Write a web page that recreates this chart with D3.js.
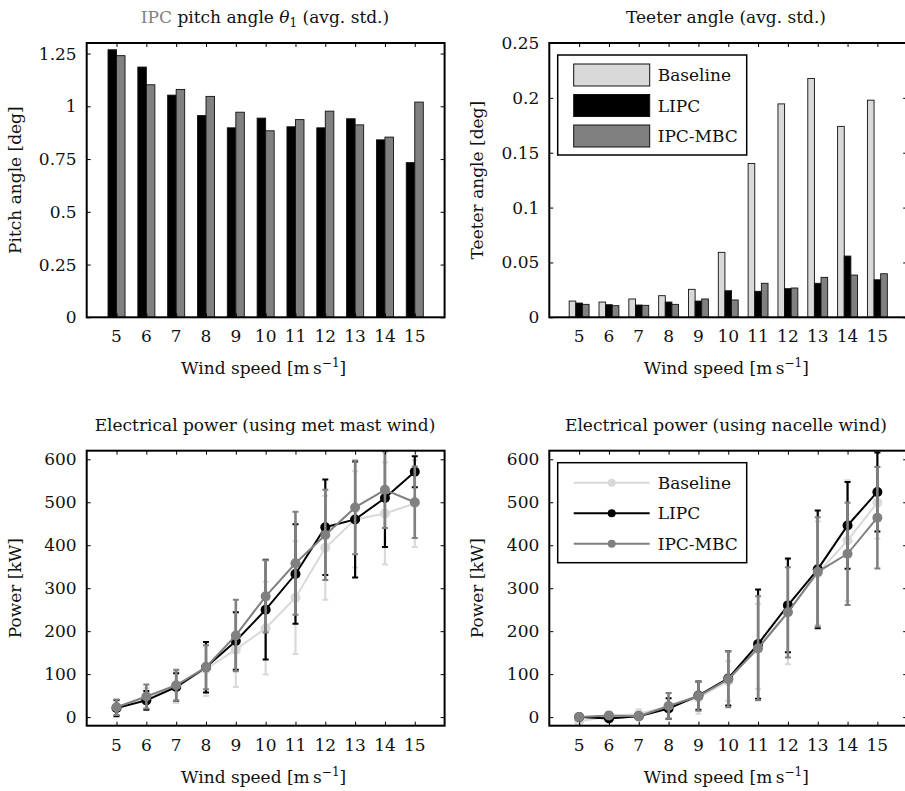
<!DOCTYPE html>
<html>
<head>
<meta charset="utf-8">
<script src="https://cdn.jsdelivr.net/npm/d3@7"></script>
<style>
  html, body { margin: 0; padding: 0; background: #fff; }
  svg text { font-family: "DejaVu Serif", "Liberation Serif", serif; font-size: 17px; fill: #111; }
</style>
</head>
<body>
<svg id="chart" width="905" height="791"></svg>
<script>
// Wind speed bins (m/s)
const windSpeeds = [5, 6, 7, 8, 9, 10, 11, 12, 13, 14, 15];
const seriesNames = ["Baseline", "LIPC", "IPC-MBC"];
const seriesColors = { "Baseline": "#d9d9d9", "LIPC": "#000000", "IPC-MBC": "#808080" };

// IPC pitch angle theta_1, average std [deg]
const pitchLIPC   = [1.268, 1.186, 1.053, 0.956, 0.898, 0.944, 0.903, 0.898, 0.941, 0.841, 0.733];
const pitchIPCMBC = [1.240, 1.102, 1.080, 1.047, 0.972, 0.884, 0.937, 0.977, 0.912, 0.854, 1.020];

// Teeter angle, average std [deg]
const teeterBaseline = [0.0148, 0.0139, 0.0167, 0.0197, 0.0255, 0.0592, 0.1402, 0.1945, 0.2177, 0.1740, 0.1979];
const teeterLIPC     = [0.0130, 0.0115, 0.0112, 0.0139, 0.0148, 0.0242, 0.0237, 0.0261, 0.0310, 0.0558, 0.0342];
const teeterIPCMBC   = [0.0118, 0.0106, 0.0109, 0.0118, 0.0167, 0.0158, 0.0310, 0.0267, 0.0364, 0.0385, 0.0397];

// Electrical power binned on met mast wind [kW]: mean and std
const mastBaseline    = [20, 43, 70, 112, 157, 207, 278, 394, 460, 474, 497];
const mastBaselineStd = [15, 24, 37, 63, 87, 108, 131, 121, 112, 119, 101];
const mastLIPC        = [21, 39, 70, 116, 177, 250, 333, 442, 460, 510, 571];
const mastLIPCStd     = [19, 22, 32, 59, 67, 116, 116, 111, 135, 114, 36];
const mastIPCMBC      = [23, 48, 74, 116, 190, 281, 358, 424, 488, 529, 500];
const mastIPCMBCStd   = [18, 28, 36, 51, 83, 84, 120, 105, 109, 89, 83];

// Electrical power binned on nacelle wind [kW]: mean and std
const nacBaseline    = [-10, 2, 8, 25, 45, 84, 165, 245, 335, 411, 499];
const nacBaselineStd = [5, 6, 10, 30, 37, 46, 99, 122, 120, 140, 84];
const nacLIPC        = [0, -3, 2, 20, 50, 90, 170, 260, 344, 446, 524];
const nacLIPCStd     = [3, 5, 5, 24, 33, 63, 127, 109, 137, 101, 92];
const nacIPCMBC      = [0, 4, 2, 26, 49, 88, 160, 244, 338, 380, 464];
const nacIPCMBCStd   = [3, 4, 5, 30, 34, 65, 121, 105, 127, 119, 118];

// Axis ticks
const pitchTicks  = [0, 0.25, 0.5, 0.75, 1, 1.25];
const pitchTickLabels = ["0", "0.25", "0.5", "0.75", "1", "1.25"];
const teeterTicks = [0, 0.05, 0.1, 0.15, 0.2, 0.25];
const teeterTickLabels = ["0", "0.05", "0.1", "0.15", "0.2", "0.25"];
const powerTicks  = [0, 100, 200, 300, 400, 500, 600];
const powerTickLabels = ["0", "100", "200", "300", "400", "500", "600"];

const svg = d3.select("#chart");

function windLabel(g, cx, y) {
  const t = g.append("text").attr("x", cx).attr("y", y).attr("text-anchor", "middle");
  t.append("tspan").text("Wind speed [m\u2009s");
  t.append("tspan").attr("dy", -7).attr("font-size", 12).text("\u22121");
  t.append("tspan").attr("dy", 7).text("]");
}

// Build one panel frame with inward ticks on all four sides
function panel(id, box, yDomain, yTicks, yLabels, yTitle) {
  const x = d3.scaleLinear().domain([4, 16]).range([box.left, box.right]);
  const y = d3.scaleLinear().domain(yDomain).range([box.bottom, box.top]);
  const g = svg.append("g").attr("class", "panel-" + id);

  g.append("clipPath").attr("id", "clip-" + id)
    .append("rect").attr("x", box.left).attr("y", box.top)
    .attr("width", box.right - box.left).attr("height", box.bottom - box.top);

  const plot = g.append("g").attr("clip-path", `url(#clip-${id})`);

  // ticks: bottom/top and left/right, drawn inward
  const axB = d3.axisBottom(x).tickValues(windSpeeds).tickSizeInner(-4).tickSizeOuter(0).tickFormat("");
  const axT = d3.axisTop(x).tickValues(windSpeeds).tickSizeInner(-4).tickSizeOuter(0).tickFormat("");
  const axL = d3.axisLeft(y).tickValues(yTicks).tickSizeInner(-4).tickSizeOuter(0).tickFormat("");
  const axR = d3.axisRight(y).tickValues(yTicks).tickSizeInner(-4).tickSizeOuter(0).tickFormat("");
  const frame = g.append("g");
  frame.append("g").attr("transform", `translate(0,${box.bottom})`).call(axB);
  frame.append("g").attr("transform", `translate(0,${box.top})`).call(axT);
  frame.append("g").attr("transform", `translate(${box.left},0)`).call(axL);
  frame.append("g").attr("transform", `translate(${box.right},0)`).call(axR);
  frame.selectAll(".domain").remove();
  frame.selectAll(".tick line").attr("stroke", "#000").attr("stroke-width", 1);

  frame.append("rect").attr("x", box.left).attr("y", box.top)
    .attr("width", box.right - box.left).attr("height", box.bottom - box.top)
    .attr("fill", "none").attr("stroke", "#000").attr("stroke-width", 2);

  // tick labels
  g.selectAll("text.xt").data(windSpeeds).join("text").attr("class", "xt")
    .attr("x", d => x(d)).attr("y", box.bottom + 25).attr("text-anchor", "middle").text(d => d);
  g.selectAll("text.yt").data(yTicks).join("text").attr("class", "yt")
    .attr("x", box.left - 10).attr("y", d => y(d) + 6).attr("text-anchor", "end")
    .text((d, i) => yLabels[i]);

  windLabel(g, (box.left + box.right) / 2 - 2, box.bottom + 57);

  g.append("text").attr("transform", `translate(${box.left - 66},${(box.top + box.bottom) / 2}) rotate(-90)`)
    .attr("text-anchor", "middle").text(yTitle);

  return { x, y, g, plot, box };
}

function bars(p, series, groupFrac) {
  const step = p.x(1) - p.x(0);
  const gw = groupFrac * step;
  const off = d3.scaleBand().domain(series.map(s => s.name)).range([-gw / 2, gw / 2]).padding(0);
  series.forEach(s => {
    p.plot.selectAll(null).data(windSpeeds).join("rect")
      .attr("x", (d) => p.x(d) + off(s.name))
      .attr("width", off.bandwidth())
      .attr("y", (d, i) => p.y(s.values[i]))
      .attr("height", (d, i) => p.y(0) - p.y(s.values[i]))
      .attr("fill", seriesColors[s.name])
      .attr("stroke", "#111").attr("stroke-width", 0.9);
  });
}

function errorLines(p, series) {
  series.forEach(s => {
    const col = seriesColors[s.name];
    const eg = p.plot.append("g");
    const pts = windSpeeds.map((w, i) => ({ w, m: s.mean[i], e: s.std[i] }));
    eg.selectAll("line.v").data(pts).join("line").attr("class", "v")
      .attr("x1", d => p.x(d.w)).attr("x2", d => p.x(d.w))
      .attr("y1", d => p.y(d.m - d.e)).attr("y2", d => p.y(d.m + d.e))
      .attr("stroke", col).attr("stroke-width", s.name === "IPC-MBC" ? 2.6 : 2.2);
    ["lo", "hi"].forEach(k => {
      eg.selectAll("line." + k).data(pts).join("line").attr("class", k)
        .attr("x1", d => p.x(d.w) - 3).attr("x2", d => p.x(d.w) + 3)
        .attr("y1", d => p.y(k === "lo" ? d.m - d.e : d.m + d.e))
        .attr("y2", d => p.y(k === "lo" ? d.m - d.e : d.m + d.e))
        .attr("stroke", col).attr("stroke-width", 2);
    });
    const line = d3.line().x(d => p.x(d.w)).y(d => p.y(d.m));
    eg.append("path").datum(pts).attr("d", line).attr("fill", "none")
      .attr("stroke", col).attr("stroke-width", 2);
    eg.selectAll("circle").data(pts).join("circle")
      .attr("cx", d => p.x(d.w)).attr("cy", d => p.y(d.m)).attr("r", 5)
      .attr("fill", col);
  });
}

function legend(g, x0, y0, kind) {
  const lg = g.append("g");
  lg.append("rect").attr("x", x0).attr("y", y0).attr("width", 189).attr("height", 100)
    .attr("fill", "#fff").attr("stroke", "#000").attr("stroke-width", 1.5);
  seriesNames.forEach((name, i) => {
    const cy = y0 + 20 + i * 30.5;
    if (kind === "bar") {
      lg.append("rect").attr("x", x0 + 16).attr("y", cy - 11).attr("width", 76).attr("height", 22)
        .attr("fill", seriesColors[name]).attr("stroke", "#111").attr("stroke-width", 1);
    } else {
      lg.append("line").attr("x1", x0 + 16).attr("x2", x0 + 92).attr("y1", cy).attr("y2", cy)
        .attr("stroke", seriesColors[name]).attr("stroke-width", 2);
      lg.append("circle").attr("cx", x0 + 54).attr("cy", cy).attr("r", 4).attr("fill", seriesColors[name]);
    }
    lg.append("text").attr("x", x0 + 100).attr("y", cy + 6).text(name);
  });
}

const boxTL = { left: 86.7, right: 444.6, top: 43, bottom: 317.3 };
const boxTR = { left: 549.3, right: 907.2, top: 43, bottom: 317.3 };
const boxBL = { left: 86.7, right: 444.6, top: 450.7, bottom: 725.7 };
const boxBR = { left: 549.3, right: 907.2, top: 450.7, bottom: 725.7 };

// Pitch angle bars
const pTL = panel("tl", boxTL, [0, 1.3], pitchTicks, pitchTickLabels, "Pitch angle [deg]");
bars(pTL, [{ name: "LIPC", values: pitchLIPC }, { name: "IPC-MBC", values: pitchIPCMBC }], 0.571);
const tTL = pTL.g.append("text").attr("x", 265).attr("y", 23).attr("text-anchor", "middle");
tTL.append("tspan").attr("fill", "#808080").style("fill", "#808080").text("IPC");
tTL.append("tspan").text(" pitch angle ");
tTL.append("tspan").attr("font-style", "italic").text("\u03b8");
tTL.append("tspan").attr("dy", 4).attr("font-size", 12).text("1");
tTL.append("tspan").attr("dy", -4).text(" (avg. std.)");

// Teeter angle bars
const pTR = panel("tr", boxTR, [0, 0.25], teeterTicks, teeterTickLabels, "Teeter angle [deg]");
bars(pTR, [
  { name: "Baseline", values: teeterBaseline },
  { name: "LIPC", values: teeterLIPC },
  { name: "IPC-MBC", values: teeterIPCMBC }
], 0.667);
pTR.g.append("text").attr("x", 726).attr("y", 23).attr("text-anchor", "middle").text("Teeter angle (avg. std.)");
legend(pTR.g, 557.7, 55, "bar");

// Power vs met mast wind
const pBL = panel("bl", boxBL, [-20, 620], powerTicks, powerTickLabels, "Power [kW]");
errorLines(pBL, [
  { name: "Baseline", mean: mastBaseline, std: mastBaselineStd },
  { name: "LIPC", mean: mastLIPC, std: mastLIPCStd },
  { name: "IPC-MBC", mean: mastIPCMBC, std: mastIPCMBCStd }
]);
pBL.g.append("text").attr("x", 265).attr("y", 431).attr("text-anchor", "middle").text("Electrical power (using met mast wind)");

// Power vs nacelle wind
const pBR = panel("br", boxBR, [-20, 620], powerTicks, powerTickLabels, "Power [kW]");
errorLines(pBR, [
  { name: "Baseline", mean: nacBaseline, std: nacBaselineStd },
  { name: "LIPC", mean: nacLIPC, std: nacLIPCStd },
  { name: "IPC-MBC", mean: nacIPCMBC, std: nacIPCMBCStd }
]);
pBR.g.append("text").attr("x", 726).attr("y", 431).attr("text-anchor", "middle").text("Electrical power (using nacelle wind)");
legend(pBR.g, 557.7, 462.7, "line");
</script>
</body>
</html>
